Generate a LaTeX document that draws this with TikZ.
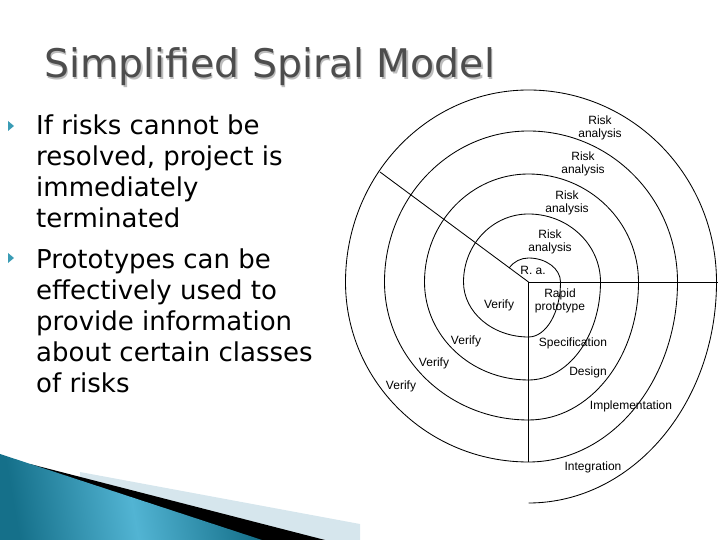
\documentclass[tikz,border=0pt]{standalone}
\usepackage{fontspec}
\setmainfont{DejaVu Sans}
\newfontfamily\diagfont{Liberation Sans}
\usetikzlibrary{calc}
\definecolor{ink}{HTML}{4D4D4D}
\definecolor{shade}{HTML}{BDBDBD}
\definecolor{bullteal}{HTML}{3A9CB5}
\definecolor{deepteal}{HTML}{15708A}
\definecolor{skyteal}{HTML}{52B4D3}
\definecolor{paleband}{HTML}{D6E6ED}
\tikzset{every node/.style={inner sep=0pt},
 titletext/.style={font=\fontsize{39.4}{44}\selectfont,anchor=base west},
 bodytext/.style={font=\fontsize{26}{31}\selectfont,align=left,anchor=base west},
 bullmark/.style={fill=bullteal},
 lbl/.style={font=\diagfont\fontsize{12}{13}\selectfont,align=center},
 spiral/.style={line width=.85pt,line join=round}}
\begin{document}
\begin{tikzpicture}[x=1pt,y=1pt]

\useasboundingbox (0,0) rectangle (720,540);
% corner swoosh
\fill[paleband] (80,68) -- (360,16) -- (360,0) -- (80,0) -- cycle;
\fill[black] (30,76) -- (325,0) -- (0,0) -- cycle;
\shade[left color=deepteal,right color=deepteal,middle color=skyteal,shading angle=100]
 (0,86) -- (262,0) -- (0,0) -- cycle;

% title
\node[titletext,text=shade] (titleshadow) at (45.5,460.5) {Simplified Spiral Model};
\node[titletext,text=ink] (title) at (44,462) {Simplified Spiral Model};

% bullets (anchored at the last line)
\fill[bullmark] (8,419) -- (14,414) -- (8,409) -- cycle;
\node[bodytext] (first) at (36,312)
 {If risks cannot be\\resolved, project is\\immediately\\terminated};
\fill[bullmark] (8,287) -- (14,282) -- (8,277) -- cycle;
\node[bodytext] (second) at (36,147)
 {Prototypes can be\\effectively used to\\provide information\\about certain classes\\of risks};

% spiral
\coordinate (o) at (528.5,258);
\coordinate (east) at (718,258);
\coordinate (south) at (528.5,78);
\coordinate (nw) at (380,368);
\draw[spiral] (o) -- (east);
\draw[spiral] (o) -- (south);
\draw[spiral] (o) -- (nw);
\draw[spiral] ($(o)+(144:24)$) arc[start angle=144,end angle=90,radius=24]
 arc[start angle=90,end angle=0,x radius=32,y radius=24]
 \foreach \rp/\b/\l/\t/\r in {32/55/65/68/72,72/98/104/108/110,110/138/144/151/149,149/180/183/192/188}{
  arc[start angle=0,end angle=-90,x radius=\rp,y radius=\b]
  arc[start angle=270,end angle=180,x radius=\l,y radius=\b]
  arc[start angle=180,end angle=90,x radius=\l,y radius=\t]
  arc[start angle=90,end angle=0,x radius=\r,y radius=\t]}
 arc[start angle=0,end angle=-90,x radius=188,y radius=221];

% labels
\node[lbl] (risk1) at (600,412) {Risk\\analysis};
\node[lbl] (risk2) at (583,376) {Risk\\analysis};
\node[lbl] (risk3) at (567,337) {Risk\\analysis};
\node[lbl] (risk4) at (550,298) {Risk\\analysis};
\node[lbl] (ra) at (533,270) {R. a.};
\node[lbl] (proto) at (560,239) {Rapid\\prototype};
\node[lbl] (verify1) at (499,235) {Verify};
\node[lbl] (verify2) at (466,199) {Verify};
\node[lbl] (verify3) at (434,177) {Verify};
\node[lbl] (verify4) at (401,154) {Verify};
\node[lbl] (spec) at (573,197) {Specification};
\node[lbl] (design) at (588,168) {Design};
\node[lbl] (impl) at (631,134) {Implementation};
\node[lbl] (integ) at (593,73) {Integration};

\end{tikzpicture}
\end{document}
